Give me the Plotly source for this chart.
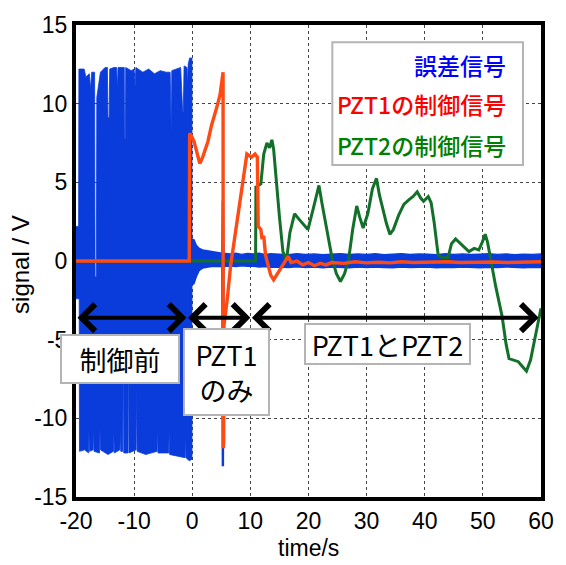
import plotly.graph_objects as go

# ---------------- data ----------------
# error signal before control: upper / lower envelope of the dense oscillation (t [s], V)
err_pre_upper = [(-20.0, 2.2), (-19.55, 2.2), (-19.5, 12.2), (-18.6, 12.2), (-18.3, 11.7), (-17.7, 11.9),
                 (-17.5, 10.9), (-17.3, 12.0), (-16.8, 12.0), (-16.72, -1.0), (-16.5, -1.0), (-16.42, 10.4),
                 (-15.8, 12.0), (-15.0, 12.3), (-14.6, 12.3), (-14.5, 9.1), (-14.3, 9.1), (-14.2, 12.2),
                 (-13.5, 12.3), (-13.0, 12.3), (-12.9, 10.9), (-12.75, 12.3), (-12.2, 12.3), (-11.7, 12.3),
                 (-11.65, 7.8), (-11.5, 7.8), (-11.45, 12.3), (-10.5, 12.1), (-10.0, 12.2), (-9.85, 11.0),
                 (-9.7, 12.3), (-8.5, 12.0), (-7.5, 12.2), (-6.5, 11.9), (-5.5, 12.1), (-4.5, 12.0),
                 (-3.8, 12.0), (-3.72, 8.0), (-3.6, 8.0), (-3.52, 12.1), (-2.8, 12.2), (-2.0, 12.3),
                 (-1.65, 9.5), (-1.55, 9.5), (-1.4, 12.4), (-0.9, 12.3), (-0.8, 11.1), (-0.7, 12.5),
                 (-0.45, 12.9), (-0.25, 12.9), (-0.05, 12.9)]
err_pre_lower = [(-20.0, -2.4), (-19.45, -2.4), (-19.4, -12.1), (-18.5, -12.0), (-17.85, -12.2), (-17.78, -10.8),
                 (-17.7, -12.1), (-17.05, -12.0), (-16.98, -10.5), (-16.9, -12.1), (-15.95, -12.2), (-15.88, -10.6),
                 (-15.8, -12.0), (-14.5, -12.3), (-13.55, -12.1), (-13.48, -11.0), (-13.4, -12.2), (-12.45, -12.0),
                 (-12.38, -10.6), (-12.3, -12.1), (-11.95, -12.1), (-11.9, -7.8), (-11.82, -7.8), (-11.78, -12.2),
                 (-11.05, -12.2), (-11.0, -7.8), (-10.92, -7.8), (-10.88, -12.2), (-9.65, -12.0), (-9.6, -7.8),
                 (-9.52, -7.8), (-9.48, -12.1), (-8.0, -12.3), (-6.05, -12.1), (-5.98, -10.5), (-5.9, -12.2),
                 (-4.05, -12.2), (-3.98, -10.8), (-3.9, -12.3), (-2.5, -12.4), (-1.25, -12.5), (-1.18, -11.0),
                 (-1.1, -12.5), (-0.5, -12.7), (-0.05, -12.6)]
# error signal after control starts: upper / lower envelope of the residual noise
err_post_t = [-0.05, 0.3, 0.7, 1.2, 1.8, 2.5, 3.3, 4.2, 5.1, 5.18, 5.36, 5.45, 6.5, 7.5, 8.5, 9.5,
              10.5, 11.5, 12.5, 13.5, 15.0, 16.5, 18.0, 19.5, 21.0, 22.5, 24.0, 25.5, 27.0, 28.5,
              30.0, 31.5, 33.0, 34.5, 36.0, 37.5, 39.0, 40.5, 42.0, 43.5, 45.0, 46.5, 48.0, 49.5,
              51.0, 52.5, 54.0, 55.5, 57.0, 58.5, 60.0]
err_post_upper = [1.4, 1.35, 1.0, 0.8, 0.7, 0.65, 0.6, 0.55, 0.5, 3.8, 3.8, 0.5, 0.45, 0.5, 0.42, 0.48,
                  0.45, 0.5, 0.42, 0.46, 0.43, 0.4, 0.47, 0.42, 0.45, 0.4, 0.44, 0.47, 0.41, 0.45,
                  0.42, 0.46, 0.4, 0.44, 0.47, 0.41, 0.45, 0.43, 0.4, 0.46, 0.42, 0.45, 0.41, 0.44,
                  0.46, 0.42, 0.45, 0.4, 0.44, 0.42, 0.45]
err_post_lower = [-1.5, -1.45, -1.0, -0.6, -0.45, -0.4, -0.35, -0.35, -0.35, -13.0, -13.0, -0.35, -0.32, -0.36, -0.3, -0.34,
                  -0.33, -0.38, -0.36, -0.4, -0.38, -0.42, -0.37, -0.41, -0.39, -0.43, -0.38, -0.41, -0.44, -0.39,
                  -0.42, -0.38, -0.41, -0.43, -0.39, -0.42, -0.4, -0.38, -0.43, -0.4, -0.42, -0.39, -0.41, -0.43,
                  -0.4, -0.42, -0.38, -0.41, -0.43, -0.4, -0.42]

# PZT1 control signal (t [s], V)
pzt1 = [(-20.0, 0.0), (-0.52, 0.0), (-0.45, 8.1), (-0.2, 8.0), (0.3, 7.6), (0.8, 6.8), (1.3, 6.2), (1.8, 6.6),
        (2.3, 7.1), (2.7, 7.6), (3.3, 8.6), (3.8, 9.2), (4.4, 10.0), (4.8, 10.6), (5.1, 11.5), (5.25, 12.0),
        (5.3, 12.0), (5.33, -11.9), (5.4, -11.5), (5.45, -4.1), (6.0, -2.5), (6.6, -0.3), (7.5, 2.0),
        (8.5, 4.5), (9.2, 6.5), (9.4, 6.8), (10.2, 6.6), (10.8, 6.8), (11.2, 6.6), (11.35, 2.2), (11.8, 2.0),
        (12.0, 1.4), (12.3, 1.6), (12.6, 0.4), (13.0, -0.2), (13.5, -0.9), (14.0, -1.2), (14.5, -0.9),
        (15.0, -0.6), (15.5, -0.4), (16.0, -0.1), (16.5, 0.3), (17.0, -0.1), (18.0, 0.0), (19.0, -0.25),
        (20.0, -0.1), (21.0, -0.3), (22.0, -0.15), (23.0, -0.25), (24.0, -0.1), (26.0, -0.15), (28.0, -0.05),
        (30.0, -0.12), (32.0, -0.08), (34.0, -0.12), (36.0, -0.05), (38.0, -0.1), (40.0, -0.08), (42.0, -0.1),
        (44.0, -0.05), (46.0, -0.1), (48.0, -0.08), (50.0, -0.1), (52.0, -0.06), (54.0, -0.1), (56.0, -0.08),
        (58.0, -0.1), (60.0, -0.05)]

# PZT2 control signal (t [s], V)
pzt2 = [(-20.0, 0.0), (10.9, 0.0), (10.95, 4.7), (11.8, 4.9), (12.3, 6.8), (12.85, 7.5), (13.3, 7.2), (13.7, 7.7),
        (14.0, 7.1), (14.5, 4.8), (15.0, 2.8), (15.6, 0.6), (16.2, 0.0), (16.8, 1.8), (17.6, 3.0), (18.5, 2.6),
        (19.9, 2.0), (20.8, 3.3), (21.8, 4.8), (22.3, 3.7), (23.2, 2.0), (24.1, 0.1), (24.8, -0.8), (25.5, -1.3),
        (26.2, -0.8), (26.9, 0.1), (27.6, 2.0), (28.3, 3.5), (28.8, 2.8), (29.4, 2.1), (30.2, 3.0), (31.0, 4.6),
        (31.7, 5.25), (32.2, 4.2), (32.8, 3.3), (33.4, 2.4), (34.0, 1.7), (34.6, 2.0), (35.5, 2.9), (36.4, 3.6),
        (37.3, 3.9), (38.0, 4.1), (38.7, 4.4), (39.3, 4.0), (39.8, 3.8), (40.6, 4.1), (41.1, 3.7), (41.6, 2.5),
        (42.3, 0.4), (43.0, 0.2), (44.0, 0.2), (44.6, 1.1), (45.3, 1.4), (46.5, 1.0), (47.6, 0.6), (48.5, 0.8),
        (49.3, 0.7), (49.9, 1.2), (50.4, 1.7), (50.8, 1.2), (51.3, 0.1), (52.2, -1.6), (53.3, -3.5), (54.0, -5.3),
        (54.5, -6.2), (55.3, -6.3), (56.1, -6.4), (56.8, -6.7), (57.5, -7.0), (58.2, -6.3), (58.9, -5.1),
        (59.5, -4.0), (60.0, -3.0)]

legend_labels = ["誤差信号", "PZT1の制御信号", "PZT2の制御信号"]
phase_labels = ["制御前", "PZT1<br>のみ", "PZT1とPZT2"]
phase_bounds = [-20, -1, 10, 59.6]
x_ticks = [-20, -10, 0, 10, 20, 30, 40, 50, 60]
y_ticks = [-15, -10, -5, 0, 5, 10, 15]

# ---------------- styling ----------------
BLUE = "#0a3cdc"
RED = "#ff4a14"
GREEN = "#13702a"
LAT = "Liberation Sans, Arial, sans-serif"
JP = "Noto Sans CJK JP, sans-serif"

fig = go.Figure()

# error signal (filled envelopes)
px = [p[0] for p in err_pre_upper] + [p[0] for p in err_pre_lower][::-1]
py = [p[1] for p in err_pre_upper] + [p[1] for p in err_pre_lower][::-1]
fig.add_trace(go.Scatter(x=px, y=py, mode="lines", fill="toself", fillcolor=BLUE,
                         line=dict(color=BLUE, width=0.8), hoverinfo="skip", showlegend=False))
qx = err_post_t + err_post_t[::-1]
qy = err_post_upper + err_post_lower[::-1]
fig.add_trace(go.Scatter(x=qx, y=qy, mode="lines", fill="toself", fillcolor=BLUE,
                         line=dict(color=BLUE, width=1.4), hoverinfo="skip", showlegend=False))

fig.add_trace(go.Scatter(x=[p[0] for p in pzt2], y=[p[1] for p in pzt2], mode="lines",
                         line=dict(color=GREEN, width=3), showlegend=False))
fig.add_trace(go.Scatter(x=[p[0] for p in pzt1], y=[p[1] for p in pzt1], mode="lines",
                         line=dict(color=RED, width=3.4), showlegend=False))

axis_common = dict(showline=True, linewidth=4, linecolor="black", mirror=True,
                   showgrid=True, gridcolor="#444444", griddash="dot", gridwidth=1,
                   zeroline=False, ticks="", tickfont=dict(family=LAT, size=23, color="black"))
fig.update_xaxes(range=[-20, 60], tickvals=x_ticks, ticktext=[str(v) for v in x_ticks], **axis_common)
fig.update_yaxes(range=[-15, 15], tickvals=y_ticks, ticktext=[str(v) for v in y_ticks], **axis_common)

annotations = []
shapes = []

# legend box
shapes.append(dict(type="rect", xref="x", yref="y", x0=24.1, x1=56.9, y0=6.1, y1=13.9,
                   fillcolor="white", line=dict(color="#b4b4b4", width=2), layer="above"))
for lab, col, yy in zip(legend_labels, ["#0000ff", "#ff0000", "#008000"], [12.45, 9.95, 7.35]):
    annotations.append(dict(x=54.4, y=yy, xref="x", yref="y", text=lab, showarrow=False,
                            xanchor="right", yanchor="middle",
                            font=dict(family=JP, size=23, color=col, weight=500)))

# phase arrows
for a, b in zip(phase_bounds[:-1], phase_bounds[1:]):
    annotations.append(dict(x=b, y=-3.6, ax=a, ay=-3.6, xref="x", yref="y", axref="x", ayref="y",
                            text="", showarrow=True, arrowhead=4, startarrowhead=4, arrowside="end+start",
                            arrowwidth=4, arrowsize=1.3, startarrowsize=1.3, arrowcolor="black",
                            standoff=0, startstandoff=0))

# phase label boxes
for lab, (cx, cy, w, h) in zip(phase_labels, [(-12.4, -6.26, 116, 46), (5.85, -7.07, 83, 84), (33.6, -5.25, 163, 38)]):
    annotations.append(dict(x=cx, y=cy, xref="x", yref="y", text=lab, showarrow=False,
                            xanchor="center", yanchor="middle", width=w, height=h, align="center",
                            bgcolor="white", bordercolor="#b4b4b4", borderwidth=2, borderpad=0,
                            font=dict(family=JP, size=27, color="black")))

# axis titles
annotations.append(dict(x=-0.118, y=0.492, xref="paper", yref="paper", text="signal / V", textangle=-90,
                        showarrow=False, xanchor="center", yanchor="middle",
                        font=dict(family=LAT, size=24, color="black")))
annotations.append(dict(x=0.5, y=-0.107, xref="paper", yref="paper", text="time/s",
                        showarrow=False, xanchor="center", yanchor="middle",
                        font=dict(family=LAT, size=23, color="black")))

fig.update_layout(width=566, height=565, margin=dict(l=76, r=16, t=21, b=68),
                  paper_bgcolor="white", plot_bgcolor="white", showlegend=False,
                  annotations=annotations, shapes=shapes)

fig.write_html("out.html")
